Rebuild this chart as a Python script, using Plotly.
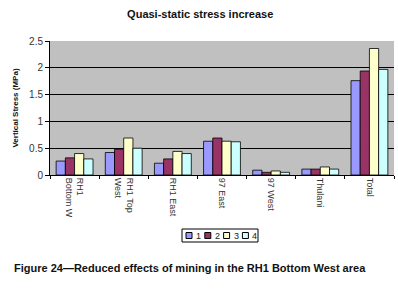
import plotly.graph_objects as go

categories = ["RH1<br>Bottom W", "RH1 Top<br>West", "RH1 East", "97 East", "97 West", "Thulani", "Total"]
series_names = ["1", "2", "3", "4"]
s1 = [0.26, 0.42, 0.22, 0.63, 0.09, 0.11, 1.76]
s2 = [0.32, 0.48, 0.30, 0.69, 0.05, 0.11, 1.94]
s3 = [0.40, 0.69, 0.44, 0.63, 0.075, 0.15, 2.36]
s4 = [0.30, 0.50, 0.40, 0.62, 0.05, 0.11, 1.97]
colors = ["#9999ff", "#993366", "#ffffcc", "#ccffff"]
yticks = [0, 0.5, 1, 1.5, 2, 2.5]
ytick_text = ["0", "0.5", "1", "1.5", "2", "2.5"]

FONT = "Liberation Sans, Arial, sans-serif"
W, H = 398, 290
ML, MR, MT, MB = 50, 4, 41, 115
PW, PH = W - ML - MR, H - MT - MB


def px(x):
    return (x - ML) / PW


def py(y):
    return (H - MB - y) / PH


fig = go.Figure()
for name, vals, col in zip(series_names, [s1, s2, s3, s4], colors):
    fig.add_trace(go.Bar(x=categories, y=vals, name=name, showlegend=False,
                         marker=dict(color=col, line=dict(color="#000000", width=0.8))))

# compact boxed legend like the original
leg_left, leg_right, leg_top, leg_bot = 182, 258, 229, 242
fig.add_shape(type="rect", xref="paper", yref="paper",
              x0=px(leg_left), x1=px(leg_right), y0=py(leg_bot), y1=py(leg_top),
              line=dict(color="#000000", width=1), fillcolor="white", layer="above")
for i, (name, col) in enumerate(zip(series_names, colors)):
    sx = 186 + i * 18.8
    fig.add_shape(type="rect", xref="paper", yref="paper",
                  x0=px(sx), x1=px(sx + 6), y0=py(238.5), y1=py(232.5),
                  line=dict(color="#000000", width=1), fillcolor=col, layer="above")
    fig.add_annotation(text=name, xref="paper", yref="paper", x=px(sx + 8), y=py(235.5),
                       xanchor="left", yanchor="middle", showarrow=False,
                       font=dict(family=FONT, size=9, color="#222222"))

fig.update_layout(
    width=W, height=H,
    margin=dict(l=ML, r=MR, t=MT, b=MB, autoexpand=False),
    paper_bgcolor="white", plot_bgcolor="#c0c0c0",
    barmode="group", bargap=0.25, bargroupgap=0,
    font=dict(family=FONT, size=9, color="#333333"),
    title=dict(text="<b>Quasi-static stress increase</b>", x=0.503, xanchor="center",
               y=0.952, yanchor="middle", font=dict(family=FONT, size=11, color="#111111")),
    showlegend=False,
)
fig.update_xaxes(tickangle=90, showline=True, linecolor="#000000", linewidth=1,
                 ticks="outside", tickson="boundaries", ticklen=3, tickcolor="#000000",
                 tickfont=dict(family=FONT, size=9, color="#333333"), automargin=False)
fig.update_yaxes(range=[0, 2.5], tickvals=yticks, ticktext=ytick_text,
                 showgrid=True, gridcolor="#000000", gridwidth=1,
                 showline=True, linecolor="#000000", linewidth=1, ticks="outside",
                 ticklen=4, tickcolor="#000000", zeroline=False, automargin=False,
                 tickfont=dict(family=FONT, size=10, color="#333333"),
                 title=dict(text="<b>Vertical Stress (MPa)</b>", standoff=9,
                            font=dict(family=FONT, size=8, color="#111111")))

fig.add_annotation(text="<b>Figure 24\u2014Reduced effects of mining in the RH1 Bottom West area</b>",
                   xref="paper", yref="paper", x=px(12), y=py(268),
                   xanchor="left", yanchor="middle", showarrow=False,
                   font=dict(family=FONT, size=11, color="#111111"))

fig.write_html("out.html", config={"displayModeBar": False},
               post_script="document.body.style.margin='0';")
